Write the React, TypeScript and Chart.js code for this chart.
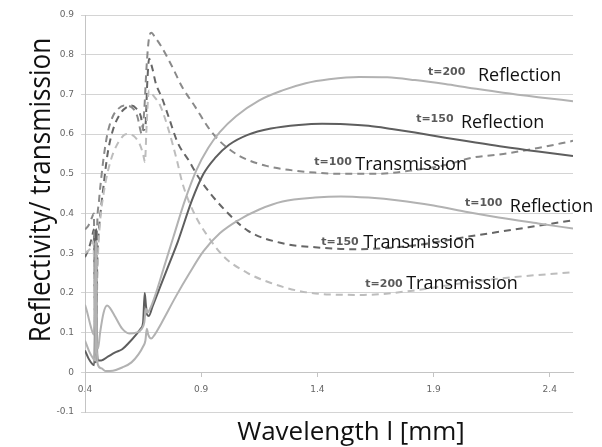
import React, { useEffect, useRef } from 'react';
import { Chart, registerables } from 'chart.js';

Chart.register(...registerables);

// ---- axis ticks ----
const X_TICKS = [0.4, 0.9, 1.4, 1.9, 2.4];
const Y_TICKS = [-0.1, 0, 0.1, 0.2, 0.3, 0.4, 0.5, 0.6, 0.7, 0.8, 0.9];

const X_TITLE = 'Wavelength l [mm]';
const Y_TITLE = 'Reflectivity/ transmission';

// ---- Reflection, t=150 ----
const R150_X = [0.40, 0.415, 0.43, 0.440, 0.444, 0.447, 0.450, 0.456, 0.47, 0.50, 0.53, 0.56, 0.59, 0.62, 0.64, 0.650, 0.657, 0.662, 0.668, 0.675, 0.69, 0.72, 0.76, 0.80, 0.86, 0.91, 0.96, 1.02, 1.10, 1.20, 1.32, 1.42, 1.52, 1.62, 1.72, 1.82, 1.95, 2.08, 2.20, 2.35, 2.50];
const R150_Y = [0.055, 0.035, 0.022, 0.018, 0.20, 0.36, 0.12, 0.030, 0.030, 0.040, 0.050, 0.058, 0.075, 0.095, 0.11, 0.125, 0.20, 0.17, 0.145, 0.142, 0.165, 0.21, 0.27, 0.33, 0.433, 0.50, 0.54, 0.573, 0.598, 0.614, 0.623, 0.626, 0.625, 0.621, 0.613, 0.604, 0.591, 0.579, 0.568, 0.556, 0.545];

// ---- Reflection, t=200 ----
const R200_X = [0.40, 0.41, 0.425, 0.438, 0.444, 0.447, 0.450, 0.456, 0.465, 0.48, 0.495, 0.51, 0.53, 0.56, 0.59, 0.62, 0.645, 0.655, 0.662, 0.668, 0.68, 0.70, 0.74, 0.78, 0.83, 0.88, 0.93, 0.98, 1.05, 1.15, 1.25, 1.35, 1.45, 1.58, 1.70, 1.82, 1.95, 2.05, 2.20, 2.35, 2.50];
const R200_Y = [0.17, 0.15, 0.115, 0.095, 0.25, 0.33, 0.08, 0.06, 0.10, 0.15, 0.168, 0.16, 0.14, 0.11, 0.098, 0.10, 0.11, 0.125, 0.16, 0.15, 0.16, 0.19, 0.265, 0.34, 0.433, 0.51, 0.565, 0.605, 0.645, 0.685, 0.71, 0.728, 0.738, 0.744, 0.743, 0.736, 0.726, 0.717, 0.704, 0.693, 0.683];

// ---- Reflection, t=100 ----
const R100_X = [0.40, 0.42, 0.435, 0.443, 0.446, 0.449, 0.455, 0.47, 0.49, 0.52, 0.56, 0.60, 0.63, 0.65, 0.66, 0.666, 0.672, 0.685, 0.70, 0.73, 0.79, 0.85, 0.91, 0.98, 1.06, 1.15, 1.25, 1.39, 1.50, 1.62, 1.75, 1.90, 2.05, 2.18, 2.35, 2.50];
const R100_Y = [0.08, 0.05, 0.035, 0.03, 0.22, 0.10, 0.02, 0.01, 0.003, 0.004, 0.012, 0.025, 0.045, 0.065, 0.08, 0.11, 0.095, 0.085, 0.095, 0.125, 0.19, 0.25, 0.305, 0.35, 0.383, 0.41, 0.43, 0.44, 0.443, 0.44, 0.433, 0.42, 0.403, 0.39, 0.375, 0.362];

// ---- Transmission, t=100 ----
const T100_X = [0.40, 0.415, 0.43, 0.438, 0.442, 0.445, 0.448, 0.452, 0.46, 0.47, 0.48, 0.49, 0.50, 0.52, 0.54, 0.57, 0.60, 0.625, 0.645, 0.655, 0.665, 0.675, 0.686, 0.70, 0.725, 0.775, 0.817, 0.875, 0.93, 0.975, 1.05, 1.10, 1.18, 1.275, 1.39, 1.50, 1.65, 1.80, 1.95, 2.06, 2.20, 2.35, 2.50];
const T100_Y = [0.36, 0.37, 0.39, 0.40, 0.15, 0.03, 0.20, 0.36, 0.43, 0.49, 0.54, 0.58, 0.61, 0.645, 0.662, 0.672, 0.668, 0.645, 0.60, 0.66, 0.77, 0.84, 0.855, 0.845, 0.824, 0.77, 0.72, 0.668, 0.617, 0.585, 0.55, 0.535, 0.52, 0.51, 0.503, 0.50, 0.50, 0.508, 0.522, 0.54, 0.55, 0.565, 0.583];

// ---- Transmission, t=150 ----
const T150_X = [0.40, 0.415, 0.43, 0.438, 0.443, 0.446, 0.449, 0.454, 0.46, 0.47, 0.48, 0.49, 0.50, 0.52, 0.55, 0.58, 0.60, 0.62, 0.64, 0.652, 0.660, 0.668, 0.676, 0.69, 0.705, 0.73, 0.76, 0.80, 0.846, 0.89, 0.94, 1.00, 1.10, 1.25, 1.39, 1.55, 1.70, 1.85, 2.03, 2.25, 2.50];
const T150_Y = [0.29, 0.31, 0.34, 0.36, 0.12, 0.02, 0.15, 0.30, 0.36, 0.42, 0.47, 0.52, 0.56, 0.61, 0.65, 0.668, 0.672, 0.665, 0.645, 0.61, 0.62, 0.73, 0.79, 0.765, 0.727, 0.693, 0.643, 0.577, 0.534, 0.49, 0.45, 0.41, 0.357, 0.325, 0.315, 0.31, 0.313, 0.322, 0.34, 0.36, 0.383];

// ---- Transmission, t=200 ----
const T200_X = [0.40, 0.42, 0.435, 0.442, 0.446, 0.450, 0.455, 0.465, 0.48, 0.50, 0.52, 0.55, 0.58, 0.61, 0.635, 0.65, 0.658, 0.665, 0.675, 0.69, 0.725, 0.76, 0.795, 0.82, 0.87, 0.92, 1.0, 1.10, 1.20, 1.32, 1.45, 1.60, 1.80, 2.03, 2.25, 2.50];
const T200_Y = [0.30, 0.31, 0.33, 0.20, 0.03, 0.15, 0.28, 0.38, 0.45, 0.51, 0.55, 0.585, 0.60, 0.595, 0.575, 0.55, 0.53, 0.62, 0.71, 0.70, 0.67, 0.61, 0.535, 0.475, 0.40, 0.35, 0.29, 0.25, 0.225, 0.205, 0.196, 0.195, 0.205, 0.225, 0.24, 0.252];

// ---- in-plot labels (data coordinates) ----
const LABEL_TAG = ['t=200', 't=150', 't=100', 't=100', 't=150', 't=200'];
const LABEL_TAG_X = [1.876, 1.825, 1.387, 2.035, 1.417, 1.606];
const LABEL_TAG_Y = [0.748, 0.630, 0.521, 0.418, 0.320, 0.214];
const LABEL_TEXT = ['Reflection', 'Reflection', 'Transmission', 'Reflection', 'Transmission', 'Transmission'];
const LABEL_TEXT_X = [2.091, 2.018, 1.563, 2.228, 1.597, 1.782];
const LABEL_TEXT_Y = [0.735, 0.615, 0.509, 0.403, 0.312, 0.209];

const pts = (xs: number[], ys: number[]) => xs.map((x, i) => ({ x, y: ys[i] }));

const fmt = (v: number) => (Math.abs(v) < 1e-9 ? '0' : v.toFixed(1));

const labelPlugin = {
  id: 'labels',
  afterDraw(chart: any) {
    const { ctx, scales } = chart;
    const xs = scales.x;
    const ys = scales.y;
    ctx.save();
    ctx.textAlign = 'left';
    ctx.textBaseline = 'alphabetic';
    for (let i = 0; i < LABEL_TAG.length; i++) {
      ctx.font = 'bold 11px "DejaVu Sans"';
      ctx.fillStyle = '#5a5a5a';
      ctx.fillText(LABEL_TAG[i], xs.getPixelForValue(LABEL_TAG_X[i]), ys.getPixelForValue(LABEL_TAG_Y[i]));
      ctx.font = '18px "Open Sans"';
      ctx.fillStyle = '#111111';
      ctx.fillText(LABEL_TEXT[i], xs.getPixelForValue(LABEL_TEXT_X[i]), ys.getPixelForValue(LABEL_TEXT_Y[i]));
    }
    // x-axis title
    ctx.font = '26px "Open Sans"';
    ctx.textAlign = 'center';
    ctx.fillStyle = '#111111';
    ctx.fillText(X_TITLE, 351, 440);
    // y-axis title (rotated, slightly condensed)
    ctx.save();
    ctx.translate(50, 190);
    ctx.rotate(-Math.PI / 2);
    ctx.scale(0.87, 1);
    ctx.font = '30px "Open Sans"';
    ctx.textAlign = 'center';
    ctx.textBaseline = 'alphabetic';
    ctx.fillText(Y_TITLE, 0, 0);
    ctx.restore();
    ctx.restore();
  },
};

export default function App() {
  const ref = useRef<HTMLCanvasElement | null>(null);

  useEffect(() => {
    if (!ref.current) return;
    const solid = (label: string, xs: number[], ys: number[], color: string) => ({
      label,
      data: pts(xs, ys),
      showLine: true,
      borderColor: color,
      borderWidth: 2,
      pointRadius: 0,
      cubicInterpolationMode: 'monotone' as const,
      fill: false,
    });
    const dashed = (label: string, xs: number[], ys: number[], color: string) => ({
      ...solid(label, xs, ys, color),
      borderDash: [7, 5],
    });

    const chart = new Chart(ref.current, {
      type: 'scatter',
      data: {
        datasets: [
          solid('t=100 Reflection', R100_X, R100_Y, '#b2b2b2'),
          solid('t=200 Reflection', R200_X, R200_Y, '#b2b2b2'),
          solid('t=150 Reflection', R150_X, R150_Y, '#5e5e5e'),
          dashed('t=200 Transmission', T200_X, T200_Y, '#bdbdbd'),
          dashed('t=100 Transmission', T100_X, T100_Y, '#8a8a8a'),
          dashed('t=150 Transmission', T150_X, T150_Y, '#666666'),
        ],
      },
      options: {
        animation: false,
        responsive: false,
        layout: { padding: { top: 15, right: 29, bottom: 35, left: 0 } },
        plugins: { legend: { display: false }, tooltip: { enabled: false } },
        scales: {
          x: {
            type: 'linear',
            min: 0.4,
            max: 2.5,
            position: { y: 0 } as any,
            afterBuildTicks: (s: any) => {
              s.ticks = X_TICKS.map((v) => ({ value: v }));
            },
            ticks: {
              callback: (v: any) => fmt(Number(v)),
              color: '#666666',
              font: { family: 'DejaVu Sans', size: 9 },
              padding: 8,
              maxRotation: 0,
              autoSkip: false,
            },
            grid: { drawOnChartArea: false, tickLength: 4, color: '#c4c4c4' },
            border: { color: '#c4c4c4' },
          },
          y: {
            type: 'linear',
            min: -0.1,
            max: 0.9,
            afterBuildTicks: (s: any) => {
              s.ticks = Y_TICKS.map((v) => ({ value: v }));
            },
            afterFit: (s: any) => {
              s.width = 85;
            },
            ticks: {
              callback: (v: any) => fmt(Number(v)),
              color: '#666666',
              font: { family: 'DejaVu Sans', size: 9 },
              padding: 7,
            },
            grid: { color: '#d4d4d4', lineWidth: 1, tickLength: 4 },
            border: { color: '#c4c4c4' },
          },
        },
      },
      plugins: [labelPlugin],
    } as any);

    return () => chart.destroy();
  }, []);

  return (
    <div style={{ position: 'fixed', left: 0, top: 0, width: 602, height: 447, background: '#fff' }}>
      <canvas ref={ref} width={602} height={447} style={{ display: 'block' }} />
    </div>
  );
}
